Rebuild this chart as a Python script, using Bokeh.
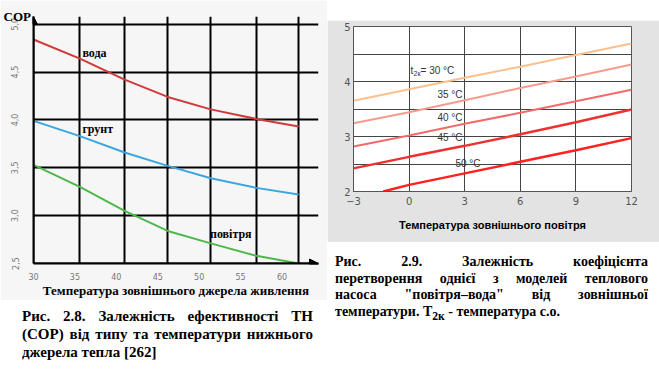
from bokeh.plotting import figure
from bokeh.models import FixedTicker, Label, Arrow, NormalHead, Div, Spacer, CustomJSTickFormatter
from bokeh.layouts import row, column
from bokeh.embed import file_html
from bokeh.resources import INLINE

# ---------------- data: left chart (COP vs source temperature) ----------------
src_temp = [30, 35.6, 41.0, 46.2, 51.4, 56.9, 62.0]
cop_voda = [4.84, 4.64, 4.42, 4.24, 4.11, 4.01, 3.93]
cop_grunt = [3.99, 3.83, 3.66, 3.52, 3.39, 3.29, 3.22]
cop_povitria = [3.53, 3.30, 3.05, 2.84, 2.71, 2.58, 2.50]
left_xticks = [30, 35, 40, 45, 50, 55, 60]
left_yticks = [2.5, 3.0, 3.5, 4.0, 4.5, 5.0]

# ---------------- data: right chart (COP vs outdoor temperature) ----------------
t_out = [-3, 0, 3, 6, 9, 12]
cop30 = [3.65, 3.86, 4.07, 4.27, 4.48, 4.69]
cop35 = [3.24, 3.44, 3.66, 3.88, 4.09, 4.31]
cop40 = [2.82, 3.02, 3.23, 3.43, 3.64, 3.85]
cop45 = [2.42, 2.63, 2.83, 3.04, 3.26, 3.49]
t_out50 = [-1.4, 0, 3, 6, 9, 12]
cop50 = [2.00, 2.12, 2.33, 2.54, 2.75, 2.97]
right_xticks = [-3, 0, 3, 6, 9, 12]
right_yticks = [2, 3, 4, 5]

SERIF = "Liberation Serif"
SANS = "DejaVu Sans"

# ================= left figure =================
X_END, Y_END = 64.4, 5.08
p1 = figure(width=327, height=300, x_range=(30, X_END), y_range=(2.5, Y_END),
            output_backend="svg", toolbar_location=None,
            min_border_left=33, min_border_right=9, min_border_top=16, min_border_bottom=35)
p1.background_fill_color = "#f6f6f6"
p1.border_fill_color = "#f6f6f6"
p1.outline_line_color = None

p1.title.text = "COP"
p1.title.align = "left"
p1.title.offset = -30
p1.title.standoff = -15
p1.title.text_font = SERIF
p1.title.text_font_style = "bold"
p1.title.text_font_size = "13px"
p1.title.text_color = "black"

p1.xgrid.ticker = FixedTicker(ticks=[30, 35.6, 41.0, 46.2, 51.4, 56.9, 62.0])
p1.ygrid.ticker = FixedTicker(ticks=[3.0, 3.5, 4.0, 4.5, 5.0])
for g in (p1.xgrid, p1.ygrid):
    g.grid_line_color = "black"
    g.grid_line_width = 2
    g.grid_line_alpha = 1

p1.xaxis.ticker = FixedTicker(ticks=left_xticks)
p1.yaxis.ticker = FixedTicker(ticks=left_yticks)
p1.yaxis.formatter = CustomJSTickFormatter(code="return tick.toFixed(1).replace('.', ',');")
p1.yaxis.major_label_orientation = "vertical"
for ax in (p1.xaxis, p1.yaxis):
    ax.axis_line_color = "black"
    ax.axis_line_width = 2
    ax.major_tick_line_color = None
    ax.minor_tick_line_color = None
    ax.major_tick_out = 0
    ax.major_tick_in = 0
    ax.minor_tick_out = 0
    ax.major_label_text_font = SANS
    ax.major_label_text_font_size = "8px"
    ax.major_label_text_color = "#777777"
p1.xaxis.major_label_standoff = 9
p1.yaxis.major_label_standoff = 15
p1.xaxis.axis_label = "Температура зовнішнього джерела живлення"
p1.xaxis.axis_label_text_font = SERIF
p1.xaxis.axis_label_text_font_style = "bold"
p1.xaxis.axis_label_text_font_size = "13px"
p1.xaxis.axis_label_text_color = "black"
p1.xaxis.axis_label_standoff = 0

p1.line(src_temp, cop_voda, line_color="#d03a3a", line_width=2)
p1.line(src_temp, cop_grunt, line_color="#3aa6e0", line_width=2)
p1.line(src_temp, cop_povitria, line_color="#4cb84c", line_width=2)

p1.add_layout(Arrow(end=NormalHead(size=9, fill_color="black", line_color="black"),
                    x_start=30, y_start=2.5, x_end=X_END, y_end=2.5,
                    line_color="black", line_width=2))
p1.add_layout(Arrow(end=NormalHead(size=8, fill_color="black", line_color="black"),
                    x_start=30, y_start=2.5, x_end=30, y_end=Y_END,
                    line_color="black", line_width=2))

lbl_style = dict(text_font=SERIF, text_font_style="bold", text_font_size="12px",
                 text_color="black", text_baseline="middle", text_align="left")
p1.add_layout(Label(x=35.9, y=4.70, text="вода", **lbl_style))
p1.add_layout(Label(x=35.9, y=3.91, text="грунт", **lbl_style))
p1.add_layout(Label(x=51.3, y=2.81, text="повітря", **lbl_style))

div1 = Div(width=291, height=56, margin=(7, 0, 0, 22), text=(
    '<div style="font-family:\'Liberation Serif\';font-weight:bold;font-size:15px;'
    'line-height:18px;color:#000;width:291px">'
    '<div style="text-align:justify;text-align-last:justify">Рис. 2.8. Залежність ефективності ТН</div>'
    '<div style="text-align:justify;text-align-last:justify">(СОР) від типу та температури нижнього</div>'
    '<div>джерела тепла [262]</div></div>'))

# ================= right figure =================
p2 = figure(width=332, height=222, x_range=(-3, 12), y_range=(2, 5),
            output_backend="svg", toolbar_location=None,
            min_border_left=26, min_border_right=28, min_border_top=6, min_border_bottom=51)
p2.background_fill_color = "white"
p2.border_fill_color = "#e3e3e3"
p2.outline_line_color = "#555555"
p2.outline_line_width = 1

p2.xgrid.ticker = FixedTicker(ticks=right_xticks)
p2.ygrid.ticker = FixedTicker(ticks=[2, 2.5, 3, 3.5, 4, 4.5, 5])
for g in (p2.xgrid, p2.ygrid):
    g.grid_line_color = "#444444"
    g.grid_line_width = 1
    g.grid_line_alpha = 1

p2.xaxis.ticker = FixedTicker(ticks=right_xticks)
p2.yaxis.ticker = FixedTicker(ticks=right_yticks)
for ax in (p2.xaxis, p2.yaxis):
    ax.axis_line_color = "#555555"
    ax.major_tick_line_color = None
    ax.minor_tick_line_color = None
    ax.major_tick_out = 0
    ax.major_tick_in = 0
    ax.minor_tick_out = 0
    ax.major_label_text_font = SANS
    ax.major_label_text_font_size = "10px"
    ax.major_label_text_color = "#555555"
p2.xaxis.major_label_standoff = 5
p2.yaxis.major_label_standoff = 3
p2.xaxis.axis_label = "Температура зовнішнього повітря"
p2.xaxis.axis_label_text_font = "Liberation Sans"
p2.xaxis.axis_label_text_font_style = "bold"
p2.xaxis.axis_label_text_font_size = "11px"
p2.xaxis.axis_label_text_color = "black"
p2.xaxis.axis_label_standoff = 11

p2.line(t_out, cop30, line_color="#fcc08c", line_width=2)
p2.line(t_out, cop35, line_color="#f89a8c", line_width=2)
p2.line(t_out, cop40, line_color="#f46a6a", line_width=2)
p2.line(t_out, cop45, line_color="#ee3030", line_width=2.5)
p2.line(t_out50, cop50, line_color="#ff2020", line_width=2.5)

RS = "Liberation Sans"
r_style = dict(text_font=RS, text_font_size="10px", text_color="#333333",
               text_baseline="middle", text_align="left")
p2.add_layout(Label(x=0.08, y=4.2, text="t", **r_style))
p2.add_layout(Label(x=0.08, y=4.2, x_offset=3, y_offset=-3, text="2к",
                    text_font=RS, text_font_size="7px", text_color="#333333",
                    text_baseline="middle", text_align="left"))
p2.add_layout(Label(x=0.08, y=4.2, x_offset=10, text="= 30 °C", **r_style))
p2.add_layout(Label(x=1.53, y=3.76, text="35 °C", **r_style))
p2.add_layout(Label(x=1.53, y=3.35, text="40 °C", **r_style))
p2.add_layout(Label(x=1.53, y=2.98, text="45 °C", **r_style))
p2.add_layout(Label(x=2.5, y=2.51, text="50 °C", **r_style))

div2 = Div(width=313, height=70, margin=(12, 0, 0, 8), text=(
    '<div style="font-family:\'Liberation Serif\';font-weight:bold;font-size:14px;'
    'line-height:16.5px;color:#000;width:313px">'
    '<div style="text-align:justify;text-align-last:justify">Рис. 2.9. Залежність коефіцієнта</div>'
    '<div style="text-align:justify;text-align-last:justify">перетворення однієї з моделей теплового</div>'
    '<div style="text-align:justify;text-align-last:justify">насоса &quot;повітря–вода&quot; від зовнішньої</div>'
    '<div>температури. Т<sub style="line-height:0">2к</sub> - температура с.о.</div></div>'))

left = column(p1, div1)
right = column(Spacer(width=332, height=20), p2, div2)
layout = row(left, right)

open("out.html", "w").write(file_html(layout, INLINE))
